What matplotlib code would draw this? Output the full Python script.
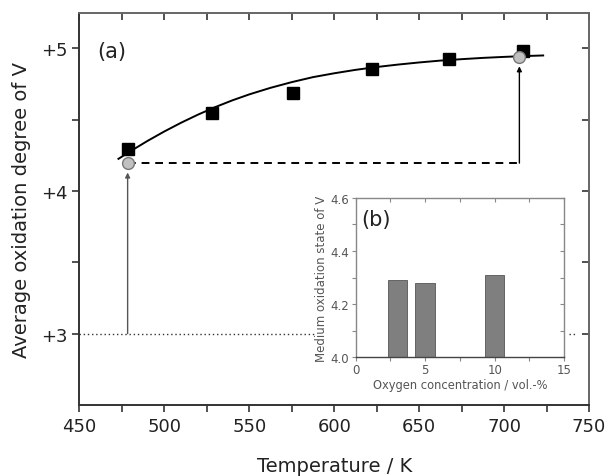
import matplotlib
matplotlib.use("Agg")
import matplotlib.pyplot as plt
import numpy as np

# Measured oxidation degree vs temperature (squares)
temp_k = [478.7, 527.9, 575.5, 622.1, 667.8, 711.0]
ox_degree = [4.297, 4.550, 4.690, 4.855, 4.925, 4.981]

# Fitted curve
curve_t = [473, 480, 490, 500, 510, 520, 530, 540, 550, 562.5, 575, 587.5,
           600, 612.5, 625, 637.5, 650, 662.5, 675, 687.5, 700, 712.5, 723]
curve_y = [4.226, 4.279, 4.351, 4.418, 4.480, 4.537, 4.589, 4.636, 4.678, 4.724,
           4.764, 4.799, 4.826, 4.850, 4.870, 4.887, 4.902, 4.915, 4.925, 4.934,
           4.941, 4.947, 4.951]

# Grey circles (medium oxidation state)
circ_t = [478.4, 709.0]
circ_y = [4.196, 4.941]

# Inset (b)
oxygen_conc = [3, 5, 10]
medium_state = [4.289, 4.281, 4.311]

fig = plt.figure(figsize=(6.06, 4.77), dpi=100)
ax = fig.add_axes([0.131, 0.149, 0.841, 0.822])

spine_col = "#333333"

# Dotted line at +3 (hidden behind inset)
ax.plot([450, 589], [3, 3], ls=(0, (1, 2)), color="#333333", lw=1.0)
ax.plot([738, 743], [3, 3], ls=(0, (1, 2)), color="#333333", lw=1.0)

# Vertical arrow from +3 up to first circle
ax.annotate("", xy=(circ_t[0], 4.13), xytext=(circ_t[0], 3.0),
            arrowprops=dict(arrowstyle="-|>", color="#555555", lw=1.0,
                            mutation_scale=7, shrinkA=0, shrinkB=0))
# Dashed line across and arrow up to second circle
ax.plot([circ_t[0], circ_t[1]], [circ_y[0], circ_y[0]], ls=(0, (4, 3)),
        color="black", lw=1.4)
ax.annotate("", xy=(circ_t[1], 4.875), xytext=(circ_t[1], circ_y[0]),
            arrowprops=dict(arrowstyle="-|>", color="black", lw=1.0,
                            mutation_scale=7, shrinkA=0, shrinkB=0))

ax.plot(curve_t, curve_y, color="black", lw=1.4, zorder=3)
ax.plot(temp_k, ox_degree, ls="none", marker="s", ms=8, color="black", zorder=4)
ax.plot(circ_t, circ_y, ls="none", marker="o", ms=8.5, mfc="#c0c0c0",
        mec="#777777", mew=1.0, zorder=5)

ax.set_xlim(450, 750)
ax.set_ylim(2.5, 5.25)
ax.set_xticks([450, 500, 550, 600, 650, 700, 750])
ax.set_xticks(np.arange(475, 750, 50), minor=True)
ax.set_yticks([3, 4, 5])
ax.set_yticklabels(["+3", "+4", "+5"])
ax.set_yticks([3.5, 4.5], minor=True)
ax.tick_params(axis="both", which="both", labelsize=13, color=spine_col,
               labelcolor="#222222")
ax.tick_params(axis="x", which="both", direction="out", top=True,
               length=5, width=1.2)
ax.tick_params(axis="y", which="both", direction="out", right=True,
               length=5, width=1.2)
# inward ticks on top and right
for t in ax.xaxis.get_major_ticks() + ax.xaxis.get_minor_ticks():
    t.tick2line.set_marker(3)
for t in ax.yaxis.get_major_ticks() + ax.yaxis.get_minor_ticks():
    t.tick2line.set_marker(0)
for s in ax.spines.values():
    s.set_color(spine_col)
    s.set_linewidth(1.4)
ax.spines["top"].set_color("#666666")
ax.spines["right"].set_color("#666666")

ax.set_xlabel("Temperature / K", fontsize=14, color="#222222", labelpad=15)
ax.set_ylabel("Average oxidation degree of V", fontsize=14, color="#222222",
              labelpad=7)
ax.text(469, 4.98, "(a)", fontsize=15, ha="center", va="center", color="#222222")

# Inset
ins = fig.add_axes([0.587, 0.249, 0.344, 0.334])
ins.bar(oxygen_conc, medium_state, width=1.4, bottom=0, color="#7f7f7f",
        edgecolor="#555555", lw=0.6)
ins.set_xlim(0, 15)
ins.set_ylim(4.0, 4.6)
ins.set_xticks([0, 5, 10, 15])
ins.set_xticks([2.5, 7.5, 12.5], minor=True)
ins.set_yticks([4.0, 4.2, 4.4, 4.6])
ins.set_yticks([4.1, 4.3, 4.5], minor=True)
ins.set_yticklabels(["4.0", "4.2", "4.4", "4.6"])
ins.tick_params(axis="both", which="both", labelsize=8.5, labelcolor="#555555",
                color="#888888", direction="out", top=True, right=True,
                length=3, width=0.8, pad=1.5)
for t in ins.xaxis.get_major_ticks() + ins.xaxis.get_minor_ticks():
    t.tick2line.set_marker(3)
for t in ins.yaxis.get_major_ticks() + ins.yaxis.get_minor_ticks():
    t.tick2line.set_marker(0)
for s in ins.spines.values():
    s.set_color("#888888")
    s.set_linewidth(1.0)
ins.spines["bottom"].set_color("#444444")
ins.set_xlabel("Oxygen concentration / vol.-%", fontsize=8.3, color="#555555",
               labelpad=1)
ins.set_ylabel("Medium oxidation state of V", fontsize=8.5, color="#555555",
               labelpad=2)
ins.text(1.44, 4.52, "(b)", fontsize=15, ha="center", va="center",
         color="#222222")

fig.savefig("out.png", dpi=100)
